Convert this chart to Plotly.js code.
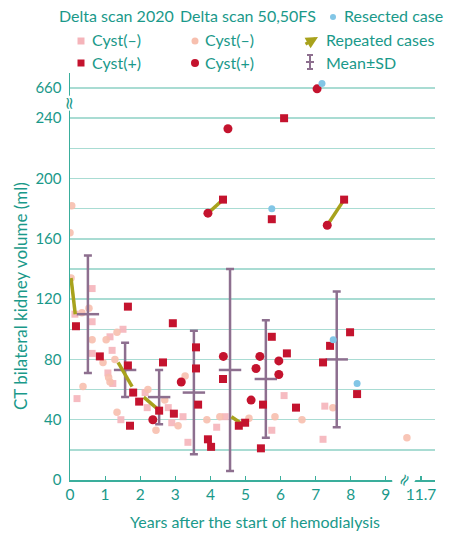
<!DOCTYPE html>
<html>
<head>
<meta charset="utf-8">
<script src="https://cdn.plot.ly/plotly-3.0.1.min.js"></script>
<style>html,body{margin:0;padding:0;background:#fff}#chart{width:450px;height:534px}</style>
</head>
<body>
<div id="chart"></div>
<script>
// ---------- data (real values; broken axes handled by mapX / mapY) ----------
// Cyst(-), Delta scan 2020 (squares)
const negSqX = [0.14, 0.63, 0.63, 0.63, 1.14, 1.51, 1.2, 1.08, 1.22, 0.2, 1.45, 2.2, 2.8, 2.9, 3.22, 3.36, 4.18, 4.42, 5.75, 6.1, 7.26, 7.21, 2.14];
const negSqY = [110, 127, 105, 84, 95, 100, 86, 71, 64, 54, 40, 48, 48, 38, 42, 25, 35, 42, 33, 56, 49, 27, 58];
// Cyst(-), Delta scan 50,50FS (circles)
const negCiX = [0.05, 0.0, 0.03, 0.34, 0.54, 0.63, 1.03, 1.34, 0.94, 1.28, 1.14, 0.37, 1.34, 2.22, 2.7, 2.45, 3.08, 3.28, 3.9, 4.27, 5.1, 5.84, 6.61, 7.49, 11.3, 1.1];
const negCiY = [182, 164, 134, 111, 114, 93, 93, 98, 78, 80, 65, 62, 45, 60, 53, 33, 36, 69, 40, 42, 41, 42, 40, 48, 28, 68];
// Cyst(+), Delta scan 2020 (squares)
const posSqX = [0.17, 0.85, 1.65, 1.65, 1.8, 1.97, 1.71, 2.54, 2.96, 2.93, 2.65, 3.59, 3.59, 3.65, 3.93, 4.02, 4.36, 4.81, 4.99, 5.44, 5.75, 5.5, 6.18, 6.44, 7.21, 7.41, 7.98, 8.18, 6.1, 5.75, 7.81, 4.36];
const posSqY = [102, 82, 115, 76, 58, 52, 36, 46, 44, 104, 78, 88, 74, 50, 27, 22, 67, 36, 38, 21, 95, 50, 84, 48, 78, 89, 98, 57, 240, 173, 186, 186];
// Cyst(+), Delta scan 50,50FS (circles)
const posCiX = [4.5, 3.93, 7.04, 7.33, 2.36, 3.17, 4.37, 5.41, 5.3, 5.95, 5.95, 5.16];
const posCiY = [233, 177, 655, 169, 40, 65, 82, 82, 74, 79, 70, 53];
// Resected cases
const resX = [7.18, 5.75, 7.5, 8.18];
const resY = [690, 180, 93, 64];
// Repeated cases (first scan -> second scan)
const repX0 = [0.03, 1.37, 2.1, 4.6, 3.93, 7.33];
const repY0 = [134, 78, 55, 42, 177, 169];
const repX1 = [0.15, 1.77, 2.5, 4.85, 4.36, 7.81];
const repY1 = [110, 62, 47, 38, 186, 186];
// Mean ± SD by year
const meanX = [0.51, 1.57, 2.54, 3.53, 4.56, 5.58, 7.6];
const meanY = [110, 73, 55, 58, 73, 67, 80];
const sdY = [39, 18, 18, 41, 67, 39, 45];
// Tick labels
const xTickVals = [0, 1, 2, 3, 4, 5, 6, 7, 8, 9, 11.7];
const xTickText = ['0', '1', '2', '3', '4', '5', '6', '7', '8', '9', '11.7'];
const yTickVals = [0, 20, 40, 60, 80, 100, 120, 140, 160, 180, 200, 220, 240, 660];
const yTickText = ['0', '', '40', '', '80', '', '120', '', '160', '', '200', '', '240', '660'];

// ---------- broken-axis mapping ----------
const mapX = v => v <= 9.5 ? v : 10 + (v - 11.7);
const mapY = v => v <= 250 ? v : 260 + (v - 660) * 0.1;

const TEAL = '#1a998a';
const GRID = '#a9dcd3';
const PINK_SQ = '#f5b4ba';
const PINK_CI = '#f7bfae';
const RED = '#c4132e';
const BLUE = '#82c6e6';
const OLIVE = '#a8a21c';
const PURPLE = '#8d6f8f';
const FONT = 'Lato, Roboto, "Liberation Sans", sans-serif';

const segX = [], segY = [];
repX0.forEach((_, i) => {
  segX.push(mapX(repX0[i]), mapX(repX1[i]), null);
  segY.push(mapY(repY0[i]), mapY(repY1[i]), null);
});

const traces = [
  {x: negSqX.map(mapX), y: negSqY.map(mapY), mode: 'markers', type: 'scatter',
   marker: {symbol: 'square', size: 7, color: PINK_SQ, opacity: 0.9}},
  {x: negCiX.map(mapX), y: negCiY.map(mapY), mode: 'markers', type: 'scatter',
   marker: {symbol: 'circle', size: 7.5, color: PINK_CI, opacity: 0.9}},
  {x: meanX.map(mapX), y: meanY.map(mapY), mode: 'markers', type: 'scatter',
   marker: {symbol: 'line-ew', size: 16, line: {color: PURPLE, width: 2.5}},
   error_y: {type: 'data', array: sdY, visible: true, color: PURPLE, thickness: 2.5, width: 4}},
  {x: segX, y: segY, mode: 'lines', type: 'scatter', connectgaps: false,
   line: {color: OLIVE, width: 3.5}},
  {x: posSqX.map(mapX), y: posSqY.map(mapY), mode: 'markers', type: 'scatter',
   marker: {symbol: 'square', size: 8, color: RED}},
  {x: posCiX.map(mapX), y: posCiY.map(mapY), mode: 'markers', type: 'scatter',
   marker: {symbol: 'circle', size: 9, color: RED}},
  {x: resX.map(mapX), y: resY.map(mapY), mode: 'markers', type: 'scatter',
   marker: {symbol: 'circle', size: 7, color: BLUE}}
];

// pixel -> paper helpers (plot area: x 70..435, y 73..480)
const L = 70, R = 435, T = 73, B = 480;
const px = p => (p - L) / (R - L);
const py = p => (B - p) / (B - T);

const annotations = [];
const shapes = [];
function txt(t, xPix, yPix, size, anchor) {
  annotations.push({text: t, xref: 'paper', yref: 'paper', x: px(xPix), y: py(yPix),
    xanchor: anchor || 'left', yanchor: 'middle', showarrow: false,
    font: {family: FONT, size: size || 16, color: TEAL}});
}
// Legend texts
txt('Delta scan 2020', 116, 16, 16, 'center');
txt('Delta scan 50,50FS', 248, 16, 16, 'center');
txt('Resected case', 342, 16);
txt('Cyst(\u2013)', 90, 40);
txt('Cyst(\u2013)', 203, 40);
txt('Repeated cases', 324, 40);
txt('Cyst(+)', 90, 62);
txt('Cyst(+)', 203, 62);
txt('Mean\u00b1SD', 324, 62);
// Legend symbols
function sq(cx, cy, h, color) {
  shapes.push({type: 'rect', xref: 'paper', yref: 'paper', x0: px(cx - h), x1: px(cx + h),
    y0: py(cy + h), y1: py(cy - h), fillcolor: color, line: {width: 0}});
}
function ci(cx, cy, r, color) {
  shapes.push({type: 'circle', xref: 'paper', yref: 'paper', x0: px(cx - r), x1: px(cx + r),
    y0: py(cy + r), y1: py(cy - r), fillcolor: color, line: {width: 0}});
}
function ln(x0, y0, x1, y1, color, w) {
  shapes.push({type: 'line', xref: 'paper', yref: 'paper', x0: px(x0), x1: px(x1),
    y0: py(y0), y1: py(y1), line: {color: color, width: w}});
}
ci(333, 17, 3, BLUE);
sq(81, 41, 3.5, PINK_SQ);
ci(195, 41, 3.5, PINK_CI);
sq(81, 63, 3.5, RED);
ci(195, 63, 4, RED);
annotations.push({xref: 'paper', yref: 'paper', x: px(318), y: py(37), ax: -14, ay: 8,
  showarrow: true, arrowhead: 2, arrowsize: 0.8, arrowwidth: 3, arrowcolor: OLIVE, text: ''});
ln(310, 55, 310, 69, PURPLE, 2);
ln(307, 55, 313, 55, PURPLE, 2);
ln(307, 69, 313, 69, PURPLE, 2);
ln(306, 62, 314, 62, PURPLE, 2);

// Axis titles
annotations.push({text: 'CT bilateral kidney volume (ml)', xref: 'paper', yref: 'paper',
  x: px(20), y: py(296), textangle: -90, showarrow: false, xanchor: 'center', yanchor: 'middle',
  font: {family: FONT, size: 17, color: TEAL}});
annotations.push({text: 'Years after the start of hemodialysis', xref: 'paper', yref: 'paper',
  x: px(255), y: py(521), showarrow: false, xanchor: 'center', yanchor: 'middle',
  font: {family: FONT, size: 16, color: TEAL}});
// Axis break marks
annotations.push({text: '\u2248', xref: 'paper', yref: 'y', x: 0, y: 250, textangle: 90,
  showarrow: false, xanchor: 'center', yanchor: 'middle', bgcolor: '#ffffff', borderpad: 0,
  font: {family: 'DejaVu Sans', size: 17, color: TEAL}});
annotations.push({text: '\u2248', xref: 'x', yref: 'paper', x: 9.5, y: 0, textangle: -60,
  showarrow: false, xanchor: 'center', yanchor: 'middle', bgcolor: '#ffffff', borderpad: 0,
  font: {family: 'DejaVu Sans', size: 16, color: TEAL}});

const layout = {
  width: 450, height: 534,
  margin: {l: L, r: 450 - R, t: T, b: 534 - B},
  paper_bgcolor: '#ffffff', plot_bgcolor: '#ffffff',
  showlegend: false,
  font: {family: FONT, color: TEAL},
  xaxis: {range: [0, 10.4], tickmode: 'array', tickvals: xTickVals.map(mapX), ticktext: xTickText,
    showgrid: false, zeroline: false, showline: true, linecolor: '#3aae9c', linewidth: 1.5,
    ticks: 'inside', ticklen: 4, tickwidth: 1.2, tickcolor: '#3aae9c',
    tickfont: {family: FONT, size: 15.5, color: TEAL}, fixedrange: true},
  yaxis: {range: [0, 270], tickmode: 'array', tickvals: yTickVals.map(mapY), ticktext: yTickText,
    showgrid: true, gridcolor: GRID, gridwidth: 1.5, zeroline: false,
    showline: true, linecolor: '#3aae9c', linewidth: 1.5, ticks: '',
    ticklabelstandoff: 4,
    tickfont: {family: FONT, size: 15, color: TEAL}, fixedrange: true},
  annotations: annotations,
  shapes: shapes
};

Plotly.newPlot('chart', traces, layout, {staticPlot: true, displayModeBar: false});
</script>
</body>
</html>
